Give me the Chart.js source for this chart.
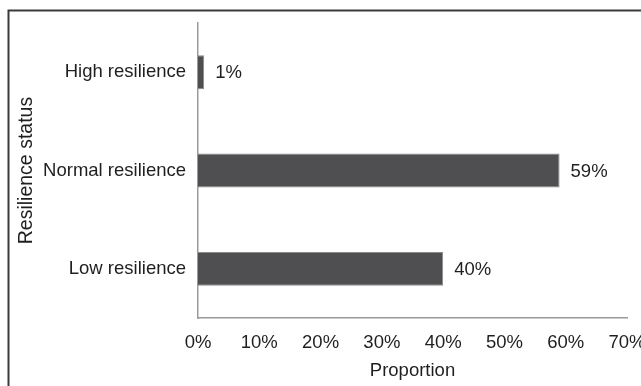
<!DOCTYPE html>
<html>
<head>
<meta charset="utf-8">
<script src="https://cdn.jsdelivr.net/npm/chart.js@4.4.1/dist/chart.umd.min.js"></script>
<style>
  html, body { margin: 0; padding: 0; background: #fff; }
  #wrap { width: 641px; height: 386px; position: relative; }
</style>
</head>
<body>
<div id="wrap"><canvas id="resilienceChart" width="641" height="386"></canvas></div>
<script>
// ── data ─────────────────────────────────────────────────────────────────────

const categories = ['High resilience', 'Normal resilience', 'Low resilience'];
const proportions = [1, 59, 40];
const xTicks = [0, 10, 20, 30, 40, 50, 60, 70];

const FONT = "'Liberation Sans', Arial, sans-serif";
const TEXT = '#1f1f1f';

// ── plugins ──────────────────────────────────────────────────────────────────

// outer frame around the whole figure
const framePlugin = {
  id: 'frame',
  beforeDraw(chart) {
    const ctx = chart.ctx;
    ctx.save();
    ctx.strokeStyle = '#3a3a3a';
    ctx.lineWidth = 2;
    ctx.strokeRect(8.5, 10.5, 700, 500);
    ctx.restore();
  },
};

// value labels to the right of each bar
const valueLabels = {
  id: 'valueLabels',
  afterDatasetsDraw(chart) {
    const ctx = chart.ctx;
    const meta = chart.getDatasetMeta(0);
    ctx.save();
    ctx.font = `18.5px ${FONT}`;
    ctx.fillStyle = TEXT;
    ctx.textAlign = 'left';
    ctx.textBaseline = 'middle';
    meta.data.forEach((bar, i) => {
      ctx.fillText(proportions[i] + '%', bar.x + 11, bar.y + 1);
    });
    ctx.restore();
  },
};

// ── chart ────────────────────────────────────────────────────────────────────

new Chart(document.getElementById('resilienceChart'), {
  type: 'bar',
  data: {
    labels: categories,
    datasets: [{
      data: proportions,
      backgroundColor: '#4f4f51',
      borderColor: '#8a8a8a',
      borderWidth: 1,
      borderSkipped: 'start',
      barPercentage: 0.345,
      categoryPercentage: 1,
    }],
  },
  options: {
    indexAxis: 'y',
    responsive: false,
    animation: false,
    layout: { padding: { top: 21, left: 0, right: 14, bottom: 0 } },
    plugins: {
      legend: { display: false },
      tooltip: { enabled: false },
    },
    scales: {
      x: {
        min: 0,
        max: 70,
        afterBuildTicks: (s) => { s.ticks = xTicks.map((v) => ({ value: v })); },
        afterFit: (s) => { s.height = 68; s.paddingLeft = 0; s.paddingRight = 0; },
        grid: { display: false, drawTicks: false },
        border: { display: true, color: '#9a9a9a', width: 1.5 },
        ticks: {
          color: TEXT,
          font: { family: FONT, size: 18.5 },
          padding: 14,
          callback: (v) => v + '%',
        },
        title: {
          display: true,
          text: 'Proportion',
          color: TEXT,
          font: { family: FONT, size: 18.5 },
          padding: { top: 0, bottom: 4 },
        },
      },
      y: {
        afterFit: (s) => { s.width = 198; },
        grid: { display: false, drawTicks: false },
        border: { display: true, color: '#9a9a9a', width: 1.5 },
        ticks: {
          color: TEXT,
          font: { family: FONT, size: 18.5 },
          padding: 12,
        },
        title: {
          display: true,
          text: 'Resilience status',
          color: TEXT,
          font: { family: FONT, size: 19.5 },
          padding: { top: 15, bottom: 0 },
        },
      },
    },
  },
  plugins: [framePlugin, valueLabels],
});
</script>
</body>
</html>
